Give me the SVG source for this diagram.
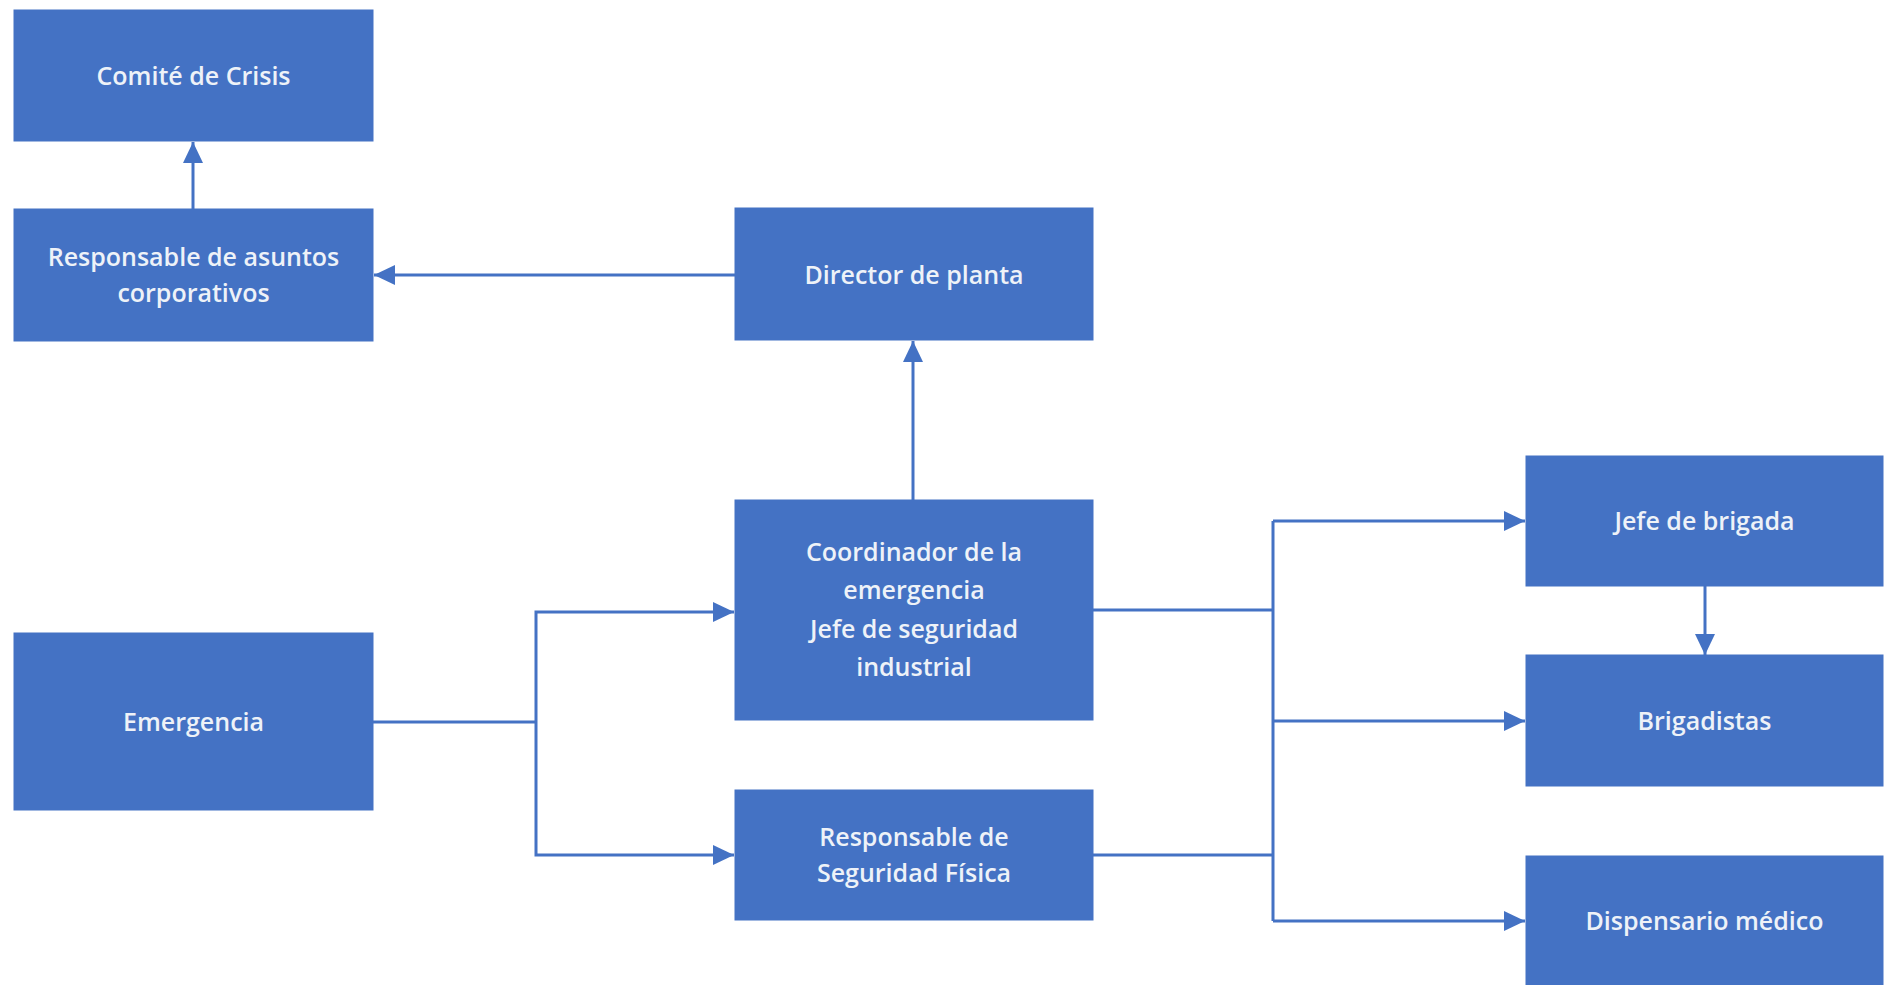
<svg xmlns="http://www.w3.org/2000/svg" width="1888" height="985" viewBox="0 0 1888 985">
<defs>
<style>
.box{fill:#4472C4;stroke:#4472C4;stroke-width:1}
.t{font-family:"Open Sans","Noto Sans",sans-serif;font-size:25px;font-weight:600;fill:#EEF2F8;text-anchor:middle}
.c{fill:none;stroke:#4472C4;stroke-width:3}
</style>
<marker id="ah" markerUnits="userSpaceOnUse" markerWidth="22" markerHeight="22" viewBox="0 0 22 22" refX="21" refY="11" orient="auto">
<path d="M0,1 L21,11 L0,21 Z" fill="#4472C4"/>
</marker>
</defs>
<rect width="1888" height="985" fill="#FFFFFF"/>
<g id="connectors">
<line class="c" x1="193" y1="209" x2="193" y2="142" marker-end="url(#ah)"/>
<line class="c" x1="735" y1="275" x2="374" y2="275" marker-end="url(#ah)"/>
<line class="c" x1="913" y1="500" x2="913" y2="341" marker-end="url(#ah)"/>
<polyline class="c" points="373,722 536,722"/>
<polyline class="c" points="536,722 536,612 734,612" marker-end="url(#ah)"/>
<polyline class="c" points="536,722 536,855 734,855" marker-end="url(#ah)"/>
<polyline class="c" points="1093,610 1273,610"/>
<polyline class="c" points="1093,855 1273,855"/>
<line class="c" x1="1273" y1="521" x2="1273" y2="921"/>
<polyline class="c" points="1273,521 1525,521" marker-end="url(#ah)"/>
<polyline class="c" points="1273,721 1525,721" marker-end="url(#ah)"/>
<polyline class="c" points="1273,921 1525,921" marker-end="url(#ah)"/>
<line class="c" x1="1705" y1="586" x2="1705" y2="655" marker-end="url(#ah)"/>
</g>
<g id="comite">
<rect class="box" x="14" y="10" width="359" height="131"/>
<text class="t" x="193.5" y="85">Comité de Crisis</text>
</g>
<g id="asuntos">
<rect class="box" x="14" y="209" width="359" height="132"/>
<text class="t" x="193.5" y="266">Responsable de asuntos</text>
<text class="t" x="193.5" y="302">corporativos</text>
</g>
<g id="director">
<rect class="box" x="735" y="208" width="358" height="132"/>
<text class="t" x="914" y="284">Director de planta</text>
</g>
<g id="coordinador">
<rect class="box" x="735" y="500" width="358" height="220"/>
<text class="t" x="914" y="561">Coordinador de la</text>
<text class="t" x="914" y="599">emergencia</text>
<text class="t" x="914" y="638">Jefe de seguridad</text>
<text class="t" x="914" y="676">industrial</text>
</g>
<g id="emergencia">
<rect class="box" x="14" y="633" width="359" height="177"/>
<text class="t" x="193.5" y="731">Emergencia</text>
</g>
<g id="seguridad-fisica">
<rect class="box" x="735" y="790" width="358" height="130"/>
<text class="t" x="914" y="846">Responsable de</text>
<text class="t" x="914" y="882">Seguridad Física</text>
</g>
<g id="jefe-brigada">
<rect class="box" x="1526" y="456" width="357" height="130"/>
<text class="t" x="1704.5" y="530">Jefe de brigada</text>
</g>
<g id="brigadistas">
<rect class="box" x="1526" y="655" width="357" height="131"/>
<text class="t" x="1704.5" y="730">Brigadistas</text>
</g>
<g id="dispensario">
<rect class="box" x="1526" y="856" width="357" height="140"/>
<text class="t" x="1704.5" y="930">Dispensario médico</text>
</g>
</svg>
